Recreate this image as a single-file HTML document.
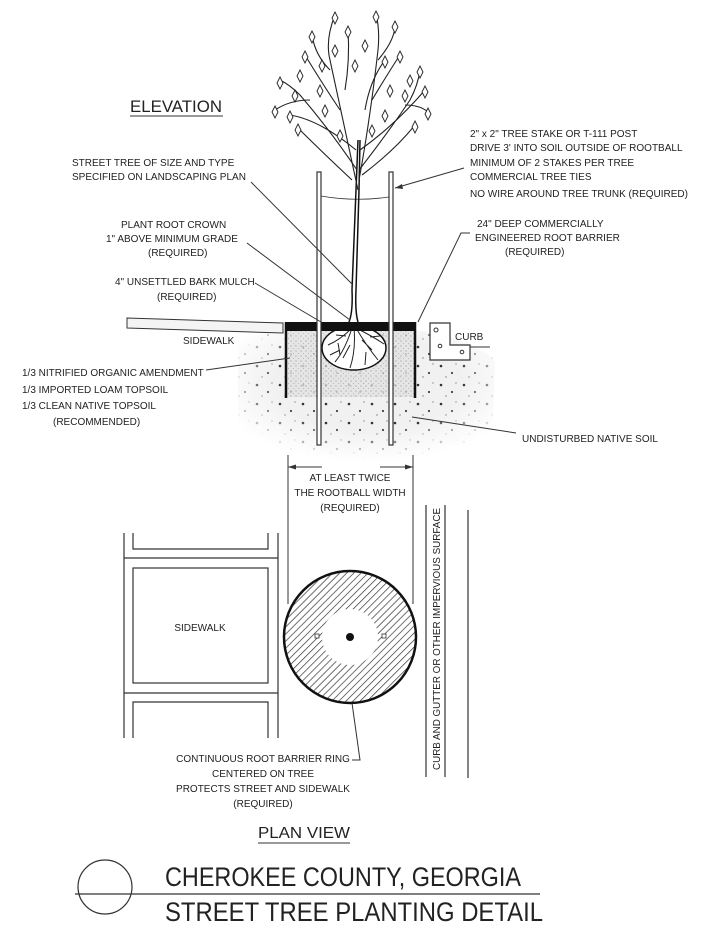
<!DOCTYPE html>
<html><head><meta charset="utf-8"><style>
html,body{margin:0;padding:0;background:#fff;}
svg{display:block}
text{font-family:"Liberation Sans",sans-serif;fill:#222;}
.s{font-size:10px;}
</style></head><body>
<svg width="705" height="930" viewBox="0 0 705 930" xmlns="http://www.w3.org/2000/svg">
<defs>
<pattern id="soil" width="23" height="19" patternUnits="userSpaceOnUse">
<rect width="23" height="19" fill="#f1f1f1"/>
<circle cx="4" cy="5" r="1.3" fill="#333"/>
<circle cx="15" cy="12" r="1.1" fill="#444"/>
<circle cx="9" cy="16" r="0.7" fill="#777"/>
<circle cx="19" cy="3" r="0.7" fill="#888"/>
</pattern>
<pattern id="fine" width="5" height="5" patternUnits="userSpaceOnUse">
<rect width="5" height="5" fill="#e2e2e2"/>
<circle cx="1" cy="1" r="0.6" fill="#888"/>
<circle cx="3.5" cy="3.5" r="0.5" fill="#999"/>
</pattern>
<pattern id="hatch" width="5" height="5" patternUnits="userSpaceOnUse" patternTransform="rotate(45)">
<rect width="5" height="5" fill="#fff"/>
<line x1="0" y1="0" x2="0" y2="5" stroke="#333" stroke-width="1.4"/>
</pattern>
<radialGradient id="fade" cx="50%" cy="40%" r="60%">
<stop offset="0.6" stop-color="#fff" stop-opacity="0"/>
<stop offset="1" stop-color="#fff" stop-opacity="1"/>
</radialGradient>
</defs>

<!-- ELEVATION -->
<text x="130" y="112" font-size="17" textLength="92" lengthAdjust="spacingAndGlyphs">ELEVATION</text>
<line x1="130" y1="116" x2="223" y2="116" stroke="#333" stroke-width="1"/>

<!-- soil -->
<path d="M238 345 Q250 332 285 330 L416 330 Q470 338 495 360 L492 460 L238 460 Z" fill="url(#soil)"/>
<rect x="238" y="330" width="260" height="132" fill="url(#fade)"/>
<rect x="286" y="331" width="128" height="66" fill="url(#fine)" opacity="0.8"/>

<!-- root ball -->
<ellipse cx="354" cy="348" rx="32" ry="22" fill="#fff" stroke="#111" stroke-width="1.5"/>
<g stroke="#222" stroke-width="1" fill="none">
<path d="M352 328 Q340 340 328 345 M352 328 Q345 350 335 362 M354 328 Q356 350 350 368 M356 328 Q366 345 378 360 M356 328 Q372 336 384 344 M346 336 L336 335 M362 340 L372 350 M340 350 L330 355 M366 352 L365 365 M350 345 L343 358 M370 337 L380 336 M338 343 L340 355"/>
</g>

<!-- mulch -->
<rect x="285" y="322" width="131" height="9" fill="#111"/>
<!-- root barrier lines -->
<line x1="286" y1="322" x2="286" y2="398" stroke="#111" stroke-width="2.5"/>
<line x1="415" y1="322" x2="415" y2="398" stroke="#111" stroke-width="2.5"/>

<!-- stakes -->
<g stroke="#333" stroke-width="1.2" fill="#fff">
<rect x="317" y="172" width="4" height="273"/>
<rect x="389" y="172" width="4" height="273"/>
</g>
<path d="M321 196 Q355 202 389 197" stroke="#333" fill="none" stroke-width="0.8"/>

<!-- trunk -->
<path d="M349 322 Q353 312 352 290 L356 190 L358 140 M358 322 Q355 312 356 290 L359 190 L360 140" stroke="#111" stroke-width="1.5" fill="#fff"/>
<!-- branches -->
<g stroke="#222" stroke-width="1.1" fill="none">
<path d="M358 190 Q345 130 330 60 Q325 40 335 15"/>
<path d="M359 180 Q370 120 378 50 Q380 30 376 14"/>
<path d="M357 170 Q330 130 300 95 Q290 85 280 80"/>
<path d="M359 170 Q390 130 410 100 Q418 85 420 70"/>
<path d="M356 150 Q320 120 290 115"/>
<path d="M360 150 Q395 125 425 90"/>
<path d="M352 180 Q320 150 298 128"/>
<path d="M362 175 Q395 150 415 125"/>
<path d="M340 110 Q320 80 305 55"/>
<path d="M372 100 Q390 70 400 55"/>
<path d="M345 90 Q350 60 348 30"/>
<path d="M365 110 Q370 80 385 60"/>
<path d="M330 70 Q315 55 312 35"/>
<path d="M378 60 Q395 40 395 25"/>
<path d="M310 100 Q290 100 275 110"/>
<path d="M405 105 Q420 105 428 112"/>
</g>
<g fill="#fff" stroke="#222" stroke-width="0.9">
<path d="M335 12 l3 6 -3 6 -3 -6z"/><path d="M376 11 l3 6 -3 6 -3 -6z"/>
<path d="M280 77 l3 6 -3 6 -3 -6z"/><path d="M420 66 l3 6 -3 6 -3 -6z"/>
<path d="M290 111 l3 6 -3 6 -3 -6z"/><path d="M425 86 l3 6 -3 6 -3 -6z"/>
<path d="M298 124 l3 6 -3 6 -3 -6z"/><path d="M415 121 l3 6 -3 6 -3 -6z"/>
<path d="M305 51 l3 6 -3 6 -3 -6z"/><path d="M400 51 l3 6 -3 6 -3 -6z"/>
<path d="M348 26 l3 6 -3 6 -3 -6z"/><path d="M385 56 l3 6 -3 6 -3 -6z"/>
<path d="M312 31 l3 6 -3 6 -3 -6z"/><path d="M395 21 l3 6 -3 6 -3 -6z"/>
<path d="M275 106 l3 6 -3 6 -3 -6z"/><path d="M428 108 l3 6 -3 6 -3 -6z"/>
<path d="M320 85 l3 6 -3 6 -3 -6z"/><path d="M390 85 l3 6 -3 6 -3 -6z"/>
<path d="M335 45 l3 6 -3 6 -3 -6z"/><path d="M365 40 l3 6 -3 6 -3 -6z"/>
<path d="M300 70 l3 6 -3 6 -3 -6z"/><path d="M410 75 l3 6 -3 6 -3 -6z"/>
<path d="M340 130 l3 6 -3 6 -3 -6z"/><path d="M372 125 l3 6 -3 6 -3 -6z"/>
<path d="M325 105 l3 6 -3 6 -3 -6z"/><path d="M385 110 l3 6 -3 6 -3 -6z"/>
<path d="M295 90 l3 6 -3 6 -3 -6z"/><path d="M405 90 l3 6 -3 6 -3 -6z"/>
<path d="M355 60 l3 6 -3 6 -3 -6z"/><path d="M322 60 l3 6 -3 6 -3 -6z"/>
</g>

<!-- sidewalk slab -->
<path d="M127 318 L283 323 L283 333 L127 328 Z" fill="#f4f4f4" stroke="#333" stroke-width="1"/>
<!-- curb -->
<path d="M430 323 L450 323 L450 345 L470 345 L470 360 L430 360 Z" fill="#fff" stroke="#333" stroke-width="1.2"/>
<line x1="470" y1="347" x2="490" y2="347" stroke="#333"/>
<circle cx="436" cy="330" r="2" fill="none" stroke="#333"/><circle cx="440" cy="346" r="1.8" fill="none" stroke="#333"/><circle cx="462" cy="352" r="1.8" fill="none" stroke="#333"/>

<!-- labels elevation -->
<g class="s">
<text x="72" y="166">STREET TREE OF SIZE AND TYPE</text>
<text x="72" y="180">SPECIFIED ON LANDSCAPING PLAN</text>
<text x="121" y="228">PLANT ROOT CROWN</text>
<text x="106" y="242">1" ABOVE MINIMUM GRADE</text>
<text x="148" y="256">(REQUIRED)</text>
<text x="115" y="285">4" UNSETTLED BARK MULCH</text>
<text x="157" y="300">(REQUIRED)</text>
<text x="183" y="344">SIDEWALK</text>
<text x="455" y="340">CURB</text>
<text x="470" y="137">2" x 2" TREE STAKE OR T-111 POST</text>
<text x="470" y="151">DRIVE 3' INTO SOIL OUTSIDE OF ROOTBALL</text>
<text x="470" y="166">MINIMUM OF 2 STAKES PER TREE</text>
<text x="470" y="180">COMMERCIAL TREE TIES</text>
<text x="470" y="197">NO WIRE AROUND TREE TRUNK (REQUIRED)</text>
<text x="477" y="227">24" DEEP COMMERCIALLY</text>
<text x="475" y="241">ENGINEERED ROOT BARRIER</text>
<text x="505" y="255">(REQUIRED)</text>
<text x="22" y="376">1/3 NITRIFIED ORGANIC AMENDMENT</text>
<text x="22" y="393">1/3 IMPORTED LOAM TOPSOIL</text>
<text x="22" y="409">1/3 CLEAN NATIVE TOPSOIL</text>
<text x="53" y="425">(RECOMMENDED)</text>
<text x="522" y="442">UNDISTURBED NATIVE SOIL</text>
<text x="350" y="481" text-anchor="middle">AT LEAST TWICE</text>
<text x="350" y="496" text-anchor="middle">THE ROOTBALL WIDTH</text>
<text x="350" y="511" text-anchor="middle">(REQUIRED)</text>
<text x="200" y="631" text-anchor="middle">SIDEWALK</text>
<text x="263" y="762" text-anchor="middle">CONTINUOUS ROOT BARRIER RING</text>
<text x="263" y="777" text-anchor="middle">CENTERED ON TREE</text>
<text x="263" y="792" text-anchor="middle">PROTECTS STREET AND SIDEWALK</text>
<text x="263" y="807" text-anchor="middle">(REQUIRED)</text>
<text transform="translate(440,770) rotate(-90)" textLength="262" lengthAdjust="spacingAndGlyphs">CURB AND GUTTER OR OTHER IMPERVIOUS SURFACE</text>
</g>

<!-- leaders -->
<g stroke="#333" stroke-width="1" fill="none">
<path d="M251 182 L353 285"/>
<path d="M247 243 L350 320"/>
<path d="M255 283 L321 322"/>
<path d="M464 168 L395 188"/>
<path d="M470 233 L461 233 L418 322"/>
<path d="M206 370 L290 358"/>
<path d="M516 433 L412 417"/>
<!-- dimension -->
<path d="M288 455 L288 604 M413 455 L413 604"/>
<path d="M288 467 L322 467 M380 467 L413 467"/>
<path d="M352 703 L360 760 L352 760"/>
</g>
<path d="M288 467 l8 -2.5 v5z M413 467 l-8 -2.5 v5z M395 188 l7 -4 l1 5z" fill="#333"/>

<!-- plan sidewalk -->
<g stroke="#333" stroke-width="1.2" fill="none">
<path d="M124 533 L124 738 M278 533 L278 738"/>
<path d="M124 558 L278 558 M124 693 L278 693"/>
<path d="M133 533 L133 549 L268 549 L268 533"/>
<rect x="133" y="568" width="135" height="115"/>
<path d="M133 738 L133 702 L268 702 L268 738"/>
<!-- curb -->
<path d="M426 505 L426 777 M445 505 L445 777 M468 510 L468 778"/>
</g>

<!-- ring -->
<circle cx="350" cy="637" r="66" fill="url(#hatch)" stroke="#111" stroke-width="2.5"/>
<circle cx="350" cy="637" r="28" fill="#fff"/>
<circle cx="350" cy="637" r="4" fill="#111"/>
<rect x="315" y="634" width="4" height="4" fill="#fff" stroke="#333" stroke-width="0.8"/>
<rect x="382" y="634" width="4" height="4" fill="#fff" stroke="#333" stroke-width="0.8"/>

<!-- plan view -->
<text x="258" y="838" font-size="16" textLength="92" lengthAdjust="spacingAndGlyphs">PLAN VIEW</text>
<line x1="258" y1="843" x2="350" y2="843" stroke="#333"/>

<!-- title -->
<circle cx="105" cy="887" r="27" fill="none" stroke="#333" stroke-width="1.2"/>
<line x1="75" y1="894" x2="540" y2="894" stroke="#333" stroke-width="1.2"/>
<text x="165" y="886" font-size="27" textLength="356" lengthAdjust="spacingAndGlyphs" style="font-family:'Liberation Sans Narrow','Liberation Sans',sans-serif">CHEROKEE COUNTY, GEORGIA</text>
<text x="165" y="921" font-size="27" textLength="378" lengthAdjust="spacingAndGlyphs" style="font-family:'Liberation Sans Narrow','Liberation Sans',sans-serif">STREET TREE PLANTING DETAIL</text>
</svg>
</body></html>
